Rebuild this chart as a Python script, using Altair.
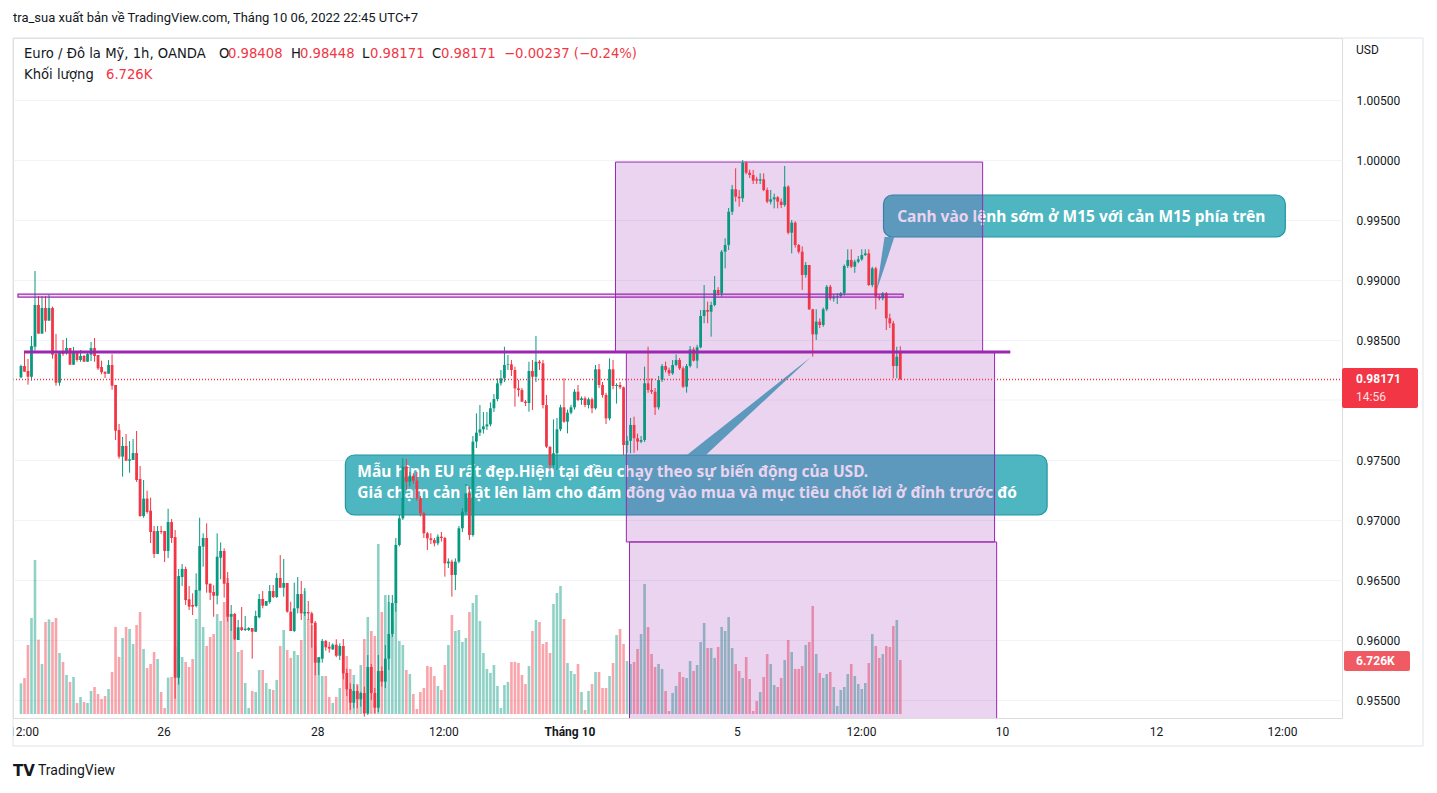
import altair as alt
import pandas as pd

# ---------------- data ----------------
opens = [.98189,.98283,.98242,.98194,.98444,.98792,.98553,.98767,.98661,.98767,
.98383,.98144,.98406,.98389,.98433,.98294,.98400,.98333,.98367,.98319,
.98378,.98433,.98375,.98275,.98236,.98219,.98292,.98125,.97750,.97528,
.97617,.97494,.97500,.97558,.97342,.97033,.97178,.97078,.96908,.96717,
.96908,.96908,.96742,.96983,.96858,.95686,.96525,.96592,.96339,.96292,
.96283,.96411,.96778,.96850,.96469,.96400,.96369,.96686,.96742,.96475,
.96194,.96217,.96000,.96106,.96083,.96083,.96100,.96069,.96189,.96342,
.96286,.96317,.96408,.96358,.96517,.96436,.96475,.96236,.96075,.96264,
.96383,.96222,.96233,.96222,.96144,.95811,.95844,.95992,.95944,.95922,
.95961,.95869,.95950,.95725,.95592,.95478,.95575,.95506,.95558,.95389,
.95775,.95558,.95436,.95742,.95653,.95844,.96050,.96308,.96792,.97014,
.97444,.97319,.97369,.97328,.97181,.97056,.96889,.96847,.96833,.96806,
.96861,.96850,.96639,.96653,.96542,.96653,.96931,.97069,.97222,.96875,
.97653,.97728,.97756,.97780,.97797,.97931,.98008,.98139,.98181,.98292,
.98297,.98250,.98097,.98083,.97986,.97975,.98242,.98194,.98319,.98306,
.97958,.97611,.97458,.97556,.97756,.97939,.97819,.97894,.97939,.98069,
.98000,.98014,.97958,.98006,.97931,.98256,.98125,.98042,.97847,.98256,
.98117,.98125,.98106,.97625,.97660,.97792,.97681,.97653,.97667,.98139,
.98083,.98069,.97939,.98167,.98283,.98250,.98222,.98292,.98333,.98264,
.98111,.98283,.98422,.98328,.98439,.98700,.98750,.98736,.98792,.98917,
.98889,.99236,.99292,.99569,.99756,.99694,.99681,.99978,.99894,.99875,
.99840,.99828,.99839,.99750,.99653,.99672,.99689,.99653,.99625,.99778,
.99394,.99478,.99292,.99236,.99042,.99125,.98756,.98547,.98653,.98625,
.98756,.98944,.98847,.98861,.98867,.98889,.99117,.99167,.99111,.99153,
.99172,.99208,.99222,.98958,.99097,.98861,.98847,.98889,.98681,.98639,
.98283,.98408]
highs = [.98294,.98403,.98342,.98533,.99075,.98867,.98867,.98867,.98878,.98778,
.98550,.98406,.98500,.98517,.98433,.98442,.98406,.98417,.98375,.98392,
.98483,.98517,.98375,.98328,.98236,.98333,.98381,.98125,.97800,.97692,
.97717,.97658,.97675,.97742,.97450,.97333,.97244,.97186,.96950,.96950,
.96950,.96908,.97094,.97008,.96917,.96592,.96633,.96611,.96450,.96389,
.96556,.97019,.96889,.96972,.96469,.96456,.96889,.96814,.96764,.96567,
.96292,.96225,.96167,.96275,.96200,.96108,.96100,.96244,.96383,.96408,
.96325,.96458,.96458,.96558,.96708,.96675,.96475,.96319,.96478,.96525,
.96492,.96433,.96325,.96236,.96158,.95856,.96008,.96000,.95983,.95972,
.96006,.95972,.96008,.95761,.95639,.95633,.95622,.95569,.95611,.95875,
.95800,.95600,.95875,.95780,.95958,.96375,.96375,.96850,.97042,.97514,
.97508,.97400,.97390,.97400,.97200,.97070,.96900,.96890,.96850,.96880,
.96900,.96860,.96680,.96670,.96680,.96950,.97100,.97300,.97278,.97700,
.97889,.97958,.97900,.97900,.97980,.98050,.98180,.98250,.98444,.98375,
.98333,.98278,.98167,.98100,.98000,.98319,.98333,.98533,.98333,.98333,
.98042,.97611,.97839,.97850,.97960,.98181,.97920,.97960,.98090,.98125,
.98030,.98030,.98020,.98020,.98292,.98300,.98150,.98060,.98347,.98333,
.98140,.98150,.98111,.97700,.97850,.97861,.97720,.97700,.98278,.98444,
.98180,.98100,.98200,.98300,.98320,.98270,.98333,.98380,.98350,.98280,
.98300,.98450,.98440,.98460,.98750,.98958,.98820,.98820,.99033,.98940,
.99250,.99347,.99600,.99792,.99931,.99750,1.00000,.99990,.99920,.99917,
.99860,.99889,.99889,.99770,.99750,.99720,.99700,.99680,.99950,.99790,
.99500,.99490,.99300,.99280,.99150,.99125,.98760,.98756,.98680,.98770,
.98958,.98960,.98880,.98890,.98900,.99130,.99256,.99256,.99170,.99200,
.99256,.99256,.99256,.99110,.99110,.98880,.98900,.98900,.98720,.98660,
.98444,.98448]
lows = [.98181,.98236,.98128,.98161,.98411,.98553,.98553,.98569,.98661,.98344,
.98119,.98119,.98367,.98378,.98294,.98294,.98319,.98319,.98319,.98319,
.98325,.98319,.98250,.98214,.98183,.98219,.98086,.97667,.97511,.97361,
.97494,.97394,.97500,.97317,.97028,.97019,.97053,.96808,.96683,.96717,
.96883,.96650,.96683,.96808,.95511,.95628,.96450,.96292,.96250,.96208,
.96272,.96411,.96611,.96394,.96333,.96194,.96297,.96506,.96353,.96153,
.96075,.96000,.96000,.96075,.96075,.96075,.95844,.96069,.96181,.96264,
.96286,.96303,.96350,.96350,.96436,.96361,.96228,.96075,.96067,.96222,
.96167,.96200,.96167,.95936,.95706,.95708,.95811,.95911,.95894,.95917,
.95856,.95833,.95672,.95533,.95417,.95431,.95431,.95444,.95361,.95375,
.95500,.95389,.95400,.95611,.95600,.95750,.96025,.96236,.96780,.97000,
.97250,.97280,.97300,.97160,.97030,.96850,.96750,.96800,.96780,.96790,
.96820,.96528,.96600,.96361,.96417,.96640,.96900,.97050,.96833,.96861,
.97600,.97700,.97720,.97750,.97780,.97900,.97990,.98120,.98150,.98250,
.98200,.97944,.98028,.97986,.97950,.97903,.97917,.98150,.98250,.97930,
.97600,.97417,.97440,.97417,.97740,.97810,.97722,.97880,.97920,.97990,
.97960,.97940,.97930,.97889,.97920,.98100,.98020,.97800,.97830,.98090,
.97970,.98090,.97542,.97560,.97556,.97560,.97580,.97640,.97650,.98060,
.98050,.97875,.97920,.98150,.98230,.98200,.98210,.98280,.98250,.98100,
.98061,.98270,.98320,.98264,.98430,.98640,.98640,.98528,.98780,.98870,
.98861,.99097,.99250,.99542,.99653,.99611,.99650,.99880,.99850,.99800,
.99800,.99800,.99740,.99640,.99630,.99597,.99597,.99600,.99610,.99380,
.99222,.99270,.99220,.98917,.99020,.98750,.98361,.98500,.98600,.98610,
.98740,.98830,.98820,.98800,.98850,.98870,.99100,.99100,.99060,.99140,
.99160,.99200,.98950,.98940,.98756,.98830,.98830,.98583,.98600,.98181,
.98181,.98171]
closes = [.98283,.98236,.98194,.98450,.98792,.98553,.98767,.98661,.98767,.98378,
.98144,.98400,.98383,.98433,.98294,.98400,.98333,.98367,.98319,.98383,
.98433,.98367,.98264,.98231,.98219,.98292,.98119,.97744,.97528,.97617,
.97494,.97506,.97558,.97333,.97033,.97178,.97067,.96900,.96717,.96908,
.96900,.96742,.96983,.96850,.95686,.96533,.96592,.96333,.96278,.96278,
.96417,.96783,.96850,.96464,.96394,.96369,.96694,.96742,.96469,.96194,
.96217,.96006,.96106,.96083,.96094,.96100,.96069,.96200,.96342,.96286,
.96325,.96408,.96358,.96517,.96436,.96475,.96236,.96075,.96264,.96383,
.96222,.96233,.96222,.96139,.95811,.95856,.95992,.95939,.95928,.95961,
.95869,.95950,.95722,.95589,.95478,.95575,.95506,.95558,.95389,.95775,
.95558,.95436,.95742,.95653,.95844,.96050,.96308,.96792,.97014,.97444,
.97319,.97369,.97328,.97181,.97056,.96889,.96847,.96833,.96806,.96861,
.96850,.96639,.96653,.96542,.96653,.96931,.97069,.97222,.96875,.97653,
.97728,.97756,.97780,.97797,.97931,.98008,.98139,.98181,.98292,.98297,
.98250,.98097,.98083,.97986,.97975,.98242,.98194,.98319,.98306,.97958,
.97611,.97458,.97556,.97756,.97939,.97819,.97894,.97939,.98069,.98000,
.98014,.97958,.98006,.97931,.98256,.98125,.98042,.97847,.98256,.98117,
.98125,.98106,.97625,.97660,.97792,.97681,.97653,.97667,.98139,.98083,
.98069,.97939,.98167,.98283,.98250,.98222,.98292,.98333,.98264,.98111,
.98283,.98422,.98328,.98439,.98700,.98750,.98736,.98792,.98917,.98889,
.99236,.99292,.99569,.99756,.99694,.99681,.99978,.99894,.99875,.99828,
.99828,.99839,.99750,.99653,.99672,.99689,.99653,.99625,.99778,.99394,
.99478,.99292,.99236,.99042,.99125,.98756,.98547,.98653,.98625,.98756,
.98944,.98847,.98861,.98867,.98889,.99117,.99167,.99111,.99153,.99172,
.99208,.99222,.98958,.99097,.98861,.98847,.98889,.98681,.98639,.98283,
.98361,.98171]
volumes_k = [3.82,4.48,8.59,11.96,19.18,9.26,6.23,11.46,11.79,11.46,
11.96,7.60,6.48,4.86,3.99,4.61,1.37,2.12,1.49,1.37,
2.87,3.36,2.49,1.87,2.24,3.11,5.23,10.84,7.10,9.47,
10.84,10.59,8.72,11.08,12.70,8.10,5.73,6.23,7.72,6.85,
2.74,0.75,4.53,4.61,8.39,9.22,7.10,6.48,5.85,6.85,
11.83,15.32,10.84,8.47,9.59,9.96,12.45,11.58,13.95,16.94,
12.45,9.34,7.72,7.97,3.86,0.75,2.87,2.74,5.48,5.48,
3.86,3.11,2.99,4.24,8.47,10.46,7.97,6.98,7.85,7.35,
9.22,15.32,11.83,11.08,8.47,7.10,4.73,4.73,2.12,1.37,
2.12,3.24,8.47,7.22,5.61,4.86,3.74,6.10,9.34,12.08,
10.34,9.71,21.17,12.70,14.82,13.95,11.71,14.07,9.09,8.59,
5.48,4.98,2.49,0.62,2.74,3.24,5.98,5.85,4.73,3.49,
2.99,6.10,8.59,12.33,10.34,10.46,8.97,9.47,12.70,13.82,
14.82,11.58,
7.60,5.61,5.11,6.10,3.49,0.75,3.61,3.99,6.48,6.48,
6.35,4.86,3.74,5.98,10.34,11.71,11.46,8.72,8.97,7.60,
13.70,15.07,15.94,11.83,6.35,5.36,4.98,6.23,2.74,0.50,
2.87,3.74,5.23,5.23,3.24,3.24,4.73,6.35,9.84,10.59,
8.72,6.60,6.23,6.48,8.10,9.96,16.19,10.84,7.47,5.85,
6.23,5.61,2.87,0.37,2.62,3.49,5.23,4.61,4.48,6.60,
5.36,6.10,8.97,11.33,8.22,8.22,6.98,8.35,10.84,10.34,
12.08,8.22,6.23,5.36,4.48,7.10,4.36,0.37,1.62,2.74,
4.61,7.47,6.23,3.61,3.36,4.48,6.73,9.22,7.72,5.61,
5.61,5.98,8.59,8.97,13.45,7.47,5.11,4.48,4.98,5.23,
3.36,1.00,2.99,3.36,4.98,6.23,4.73,3.74,3.11,3.86,
6.35,9.96,8.47,6.98,7.47,8.47,8.35,10.96,11.71,6.726]

price_ticks = [0.955, 0.960, 0.965, 0.970, 0.975, 0.985, 0.990, 0.995, 1.000, 1.005]
hidden_grid = [0.980]
time_tick_pos = [0.85, 40.8, 84.7, 120.7, 156.7, 204.5, 239.9, 280.2, 324.1, 360.1]
time_tick_labels = ["12:00", "26", "28", "12:00", "Tháng 10", "5", "12:00", "10", "12", "12:00"]

last_price = 0.98171
level_main = 0.98400
box_left = [169.7, 172.8, 173.7]
box_right = [274.5, 277.9, 278.5]
box_top = [0.99983, 0.98400, 0.96817]
box_bottom = [0.98400, 0.96817, 0.94500]
band_x = [-0.85, 251.8]
band_y = [0.98858, 0.98883]
line_x = [0.85, 282.4]

callout_text_1 = "Canh vào lệnh sớm ở M15 với cản M15 phía trên"
callout_text_2a = "Mẫu hình EU rất đẹp.Hiện tại đều chạy theo sự biến động của USD."
callout_text_2b = "Giá chạm cản bật lên làm cho đám đông vào mua và mục tiêu chốt lời ở đỉnh trước đó"

# ---------------- layout ----------------
W, H = 1329, 680
PADL, PADT = 13, 38
UP, DOWN = "#089981", "#f23645"
TXT = "#131722"
PURPLE = "#9c27b0"
CALL_FILL = "#4db6c1"
CALL_STROKE = "#2196a5"
LEG_FONT = "DejaVu Sans"
LEG_SIZE = 13.2

N = len(opens)
df = pd.DataFrame({
    "i": list(range(N)), "o": opens, "h": highs, "l": lows, "c": closes,
    "v": volumes_k,
    "dir": ["up" if c >= o else "down" for o, c in zip(opens, closes)],
})

xs = alt.Scale(domain=[-0.85, 375.65], nice=False, zero=False)
ys = alt.Scale(domain=[0.9535, 1.010167], nice=False, zero=False)
vs = alt.Scale(domain=[-0.5, 84.2], nice=False, zero=False)
col = alt.Color("dir:N", scale=alt.Scale(domain=["up", "down"], range=[UP, DOWN]), legend=None)


def X(f):
    return alt.X(f, scale=xs, axis=None)


def Y(f):
    return alt.Y(f, scale=ys, axis=None)


def ptext(s, px, py, size=13, color=TXT, weight="normal", font="Roboto", opacity=1.0):
    return alt.Chart(pd.DataFrame({"t": [s]})).mark_text(
        align="left", baseline="middle", fontSize=size, font=font,
        fontWeight=weight, color=color, opacity=opacity
    ).encode(x=alt.value(px - PADL), y=alt.value(py - PADT), text="t:N")


one = pd.DataFrame({"a": [0]})

# callouts
callouts = pd.DataFrame({"x1": [246.2, 92.6], "x2": [360.9, 292.9],
                         "y1": [0.997083, 0.975417], "y2": [0.993583, 0.970417]})
callout_rect = alt.Chart(callouts).mark_rect(
    cornerRadius=9, color=CALL_FILL, stroke=CALL_STROKE, strokeWidth=1.2
).encode(x=X("x1:Q"), x2="x2:Q", y=Y("y1:Q"), y2="y2:Q")

ptr1 = pd.DataFrame({"x": [244.2, 246.5, 249.3], "y": [0.989083, 0.993583, 0.993583],
                     "y2": [0.989083, 0.991083, 0.993583]})
ptr2 = pd.DataFrame({"x": [190.1, 195.5, 225.5], "y": [0.975417, 0.976658, 0.983583],
                     "y2": [0.975417, 0.975417, 0.983583]})
pointer1 = alt.Chart(ptr1).mark_area(color=CALL_FILL, opacity=1).encode(
    x=X("x:Q"), y=Y("y:Q"), y2="y2:Q")
pointer2 = alt.Chart(ptr2).mark_area(color=CALL_FILL, opacity=1).encode(
    x=X("x:Q"), y=Y("y:Q"), y2="y2:Q")

ctext = pd.DataFrame({"x": [250.1, 96.0, 96.0], "y": [0.995250, 0.974000, 0.972250],
                      "t": [callout_text_1, callout_text_2a, callout_text_2b]})
callout_txt = alt.Chart(ctext).mark_text(
    align="left", baseline="middle", color="white", fontSize=15.5, font="Noto Sans",
    fontWeight="bold"
).encode(x=X("x:Q"), y=Y("y:Q"), text="t:N")

# grid axes carried by an invisible copy of the wick layer
xaxis = alt.Axis(values=time_tick_pos, labels=False, ticks=False, domain=False,
                 grid=True, gridColor="#f0f3fa", title=None)
yaxis = alt.Axis(orient="right", values=price_ticks, format=".5f", labelPadding=14,
                 labelFontSize=12, labelColor=TXT, labelFont="Roboto", ticks=False,
                 domain=False, grid=True, gridColor="#f0f3fa", title=None)

base = alt.Chart(df)
axes_carrier = base.mark_rule(strokeWidth=1, opacity=0).encode(
    x=alt.X("i:Q", scale=xs, axis=xaxis),
    y=alt.Y("l:Q", scale=ys, axis=yaxis), y2="h:Q")
extra_grid = alt.Chart(pd.DataFrame({"p": hidden_grid})).mark_rule(
    color="#f0f3fa", strokeWidth=1).encode(y=Y("p:Q"), x=alt.value(0), x2=alt.value(W))

volume = base.mark_bar(size=2.6, opacity=0.45).encode(
    x=X("i:Q"), y=alt.Y("v:Q", scale=vs, axis=None), y2=alt.datum(0), color=col)

boxes = pd.DataFrame({"x1": box_left, "x2": box_right, "y1": box_top, "y2": box_bottom})
box_layer = alt.Chart(boxes).mark_rect(
    fill=PURPLE, fillOpacity=0.2, stroke=PURPLE, strokeWidth=1, clip=True
).encode(x=X("x1:Q"), x2="x2:Q", y=Y("y1:Q"), y2="y2:Q")

wicks = base.mark_rule(strokeWidth=1).encode(x=X("i:Q"), y=Y("l:Q"), y2="h:Q", color=col)
bodies = base.mark_bar(size=2.8).encode(x=X("i:Q"), y=Y("o:Q"), y2="c:Q", color=col)

band = alt.Chart(pd.DataFrame({"x1": [band_x[0]], "x2": [band_x[1]],
                               "y1": [band_y[0]], "y2": [band_y[1]]})).mark_rect(
    fill=PURPLE, fillOpacity=0.15, stroke=PURPLE, strokeWidth=1.2, clip=True
).encode(x=X("x1:Q"), x2="x2:Q", y=Y("y1:Q"), y2="y2:Q")

main_line = alt.Chart(pd.DataFrame({"x1": [line_x[0]], "x2": [line_x[1]], "y": [level_main]})).mark_rule(
    color=PURPLE, strokeWidth=3).encode(x=X("x1:Q"), x2="x2:Q", y=Y("y:Q"))

price_line = alt.Chart(pd.DataFrame({"p": [last_price]})).mark_rule(
    color=DOWN, strokeDash=[1, 2], strokeWidth=1.3
).encode(y=Y("p:Q"), x=alt.value(0), x2=alt.value(W))

# time-axis labels
tl = pd.DataFrame({"pos": time_tick_pos, "t": time_tick_labels})
tl_norm = alt.Chart(tl).transform_filter(alt.datum.t != "Tháng 10").mark_text(
    baseline="middle", fontSize=12, font="Roboto", color=TXT
).encode(x=X("pos:Q"), y=alt.value(732 - PADT), text="t:N")
tl_bold = alt.Chart(tl).transform_filter(alt.datum.t == "Tháng 10").mark_text(
    baseline="middle", fontSize=12, font="Roboto", color=TXT, fontWeight="bold"
).encode(x=X("pos:Q"), y=alt.value(732 - PADT), text="t:N")
mask = alt.Chart(one).mark_rect(color="white").encode(
    x=alt.value(-PADL), x2=alt.value(0), y=alt.value(719 - PADT), y2=alt.value(745 - PADT))

border = alt.Chart(one).mark_rect(fillOpacity=0, stroke="#e0e3eb", strokeWidth=1).encode(
    x=alt.value(0), x2=alt.value(1423 - PADL), y=alt.value(0), y2=alt.value(746 - PADT))

# price-scale tags
tag_price = alt.Chart(one).mark_rect(color=DOWN, cornerRadius=2).encode(
    x=alt.value(1342 - PADL), x2=alt.value(1418 - PADL),
    y=alt.value(368 - PADT), y2=alt.value(408 - PADT))
tag_vol = alt.Chart(one).mark_rect(color="#f05a62", cornerRadius=2).encode(
    x=alt.value(1344 - PADL), x2=alt.value(1410 - PADL),
    y=alt.value(651 - PADT), y2=alt.value(671 - PADT))

layers = [
    axes_carrier, extra_grid,
    callout_rect, pointer1, pointer2, callout_txt,
    volume, box_layer,
    wicks, bodies,
    band, main_line, price_line,
    tl_norm, tl_bold, mask, border,
    tag_price, tag_vol,
    ptext("0.98171", 1356, 379, 12, "white", "bold"),
    ptext("14:56", 1356, 397, 12, "white", "normal", opacity=0.85),
    ptext("6.726K", 1356, 661, 12, "white", "bold"),
    ptext("USD", 1356, 50, 12),
    ptext("tra_sua xuất bản về TradingView.com, Tháng 10 06, 2022 22:45 UTC+7", 13, 18, 13),
    ptext("Euro / Đô la Mỹ, 1h, OANDA", 24, 54, LEG_SIZE, font=LEG_FONT),
    ptext("O", 219, 54, LEG_SIZE, font=LEG_FONT), ptext("0.98408", 228, 54, LEG_SIZE, DOWN, font=LEG_FONT),
    ptext("H", 291, 54, LEG_SIZE, font=LEG_FONT), ptext("0.98448", 300, 54, LEG_SIZE, DOWN, font=LEG_FONT),
    ptext("L", 362, 54, LEG_SIZE, font=LEG_FONT), ptext("0.98171", 370, 54, LEG_SIZE, DOWN, font=LEG_FONT),
    ptext("C", 432, 54, LEG_SIZE, font=LEG_FONT), ptext("0.98171", 441, 54, LEG_SIZE, DOWN, font=LEG_FONT),
    ptext("−0.00237 (−0.24%)", 504, 54, LEG_SIZE, DOWN, font=LEG_FONT),
    ptext("Khối lượng", 24, 75, LEG_SIZE, font=LEG_FONT),
    ptext("6.726K", 106, 75, LEG_SIZE, DOWN, font=LEG_FONT),
    ptext("TV", 13, 771, 15, TXT, "bold", "DejaVu Sans"),
    ptext("TradingView", 38, 771, 14),
]

chart = alt.layer(*layers).resolve_scale(y="independent").properties(
    width=W, height=H,
    padding={"left": PADL, "top": PADT, "right": 1437 - PADL - W, "bottom": 793 - PADT - H},
    autosize=alt.AutoSizeParams(type="none"),
).configure_view(strokeOpacity=0).configure(background="white")

chart.save("out.html", embed_options={"renderer": "svg", "actions": False})
